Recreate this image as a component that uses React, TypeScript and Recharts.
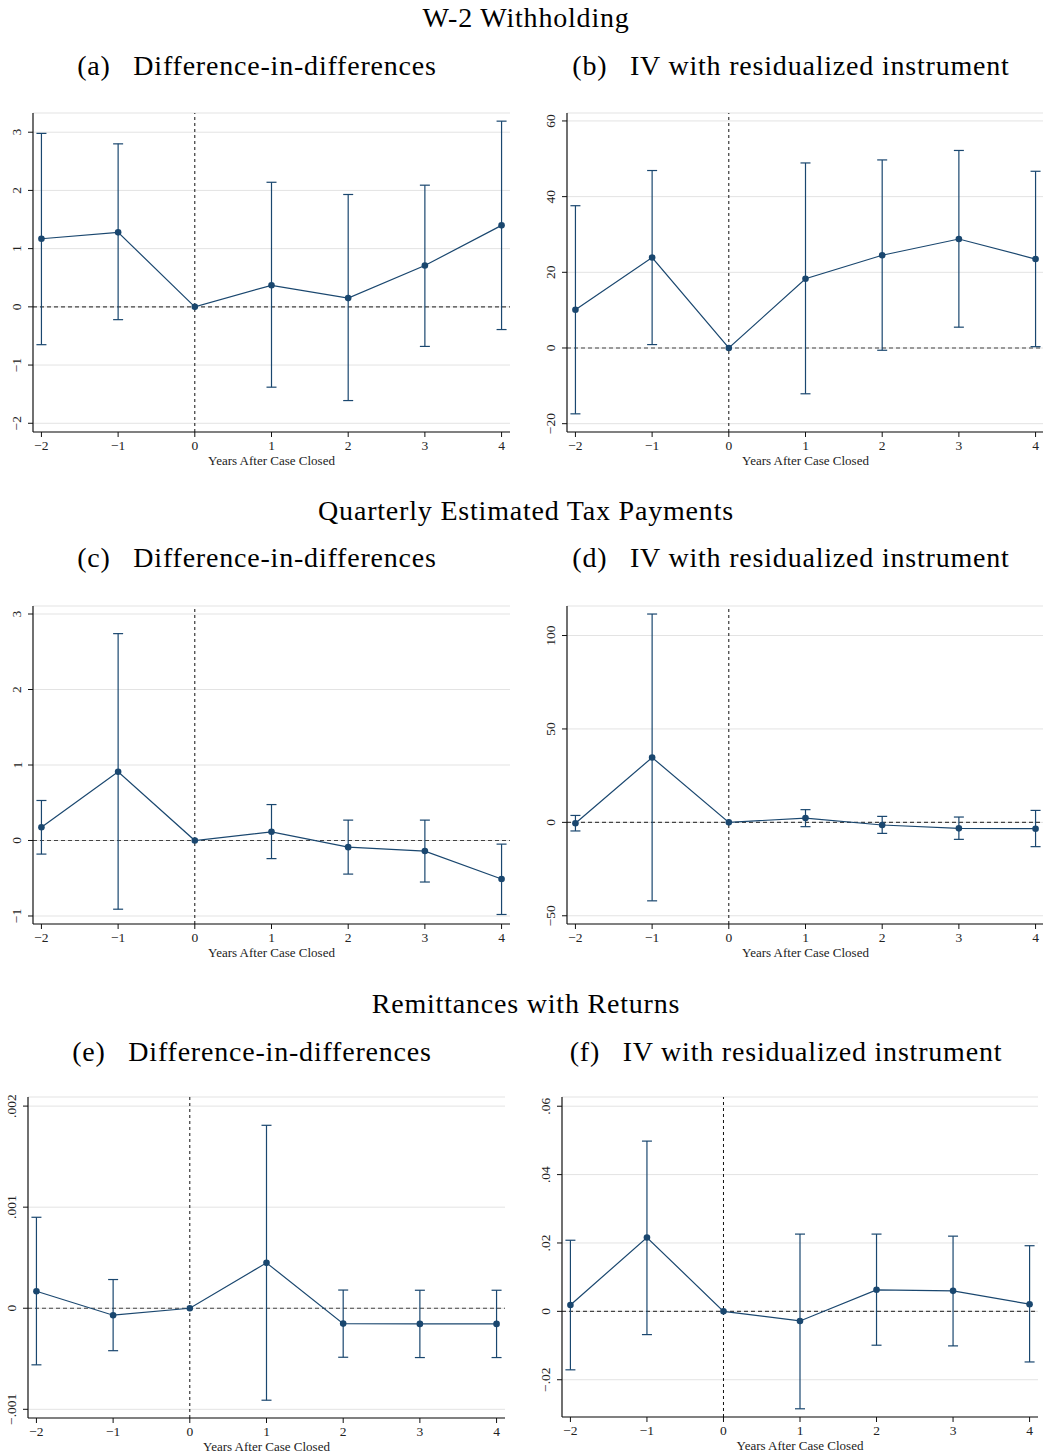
import React from "react"
import {
  ComposedChart,
  Line,
  ErrorBar,
  XAxis,
  YAxis,
  CartesianGrid,
  ReferenceLine,
} from "recharts"

const years = [-2, -1, 0, 1, 2, 3, 4]
const yearTicks = [-2, -1, 0, 1, 2, 3, 4]

// W-2 withholding
const w2DidCoef = [1.17, 1.28, 0, 0.37, 0.15, 0.71, 1.4]
const w2DidLo = [-0.65, -0.22, null, -1.38, -1.61, -0.68, -0.39]
const w2DidHi = [2.98, 2.8, null, 2.14, 1.93, 2.09, 3.19]
const w2DidTicks = [-2, -1, 0, 1, 2, 3]

const w2IvCoef = [10.1, 23.9, 0, 18.3, 24.5, 28.8, 23.5]
const w2IvLo = [-17.4, 0.9, null, -12.1, -0.6, 5.5, 0.35]
const w2IvHi = [37.6, 46.9, null, 48.9, 49.7, 52.2, 46.7]
const w2IvTicks = [-20, 0, 20, 40, 60]

// quarterly estimated tax payments
const estDidCoef = [0.176, 0.91, 0, 0.115, -0.088, -0.14, -0.51]
const estDidLo = [-0.18, -0.91, null, -0.24, -0.445, -0.55, -0.98]
const estDidHi = [0.53, 2.74, null, 0.476, 0.27, 0.27, -0.048]
const estDidTicks = [-1, 0, 1, 2, 3]

const estIvCoef = [-0.5, 34.7, 0, 2.3, -1.4, -3.2, -3.4]
const estIvLo = [-4.6, -42.0, null, -2.3, -5.9, -9.1, -13.0]
const estIvHi = [3.7, 111.5, null, 6.8, 3.2, 2.85, 6.4]
const estIvTicks = [-50, 0, 50, 100]

// remittances with returns
const remDidCoef = [0.000168, -0.000069, 0, 0.000449, -0.000152, -0.000155, -0.000155]
const remDidLo = [-0.00056, -0.00042, null, -0.00091, -0.000485, -0.000488, -0.000488]
const remDidHi = [0.0009, 0.000284, null, 0.00181, 0.00018, 0.000178, 0.000178]
const remDidTicks = [-0.001, 0, 0.001, 0.002]

const remIvCoef = [0.00185, 0.0216, 0, -0.0028, 0.0063, 0.006, 0.0021]
const remIvLo = [-0.0171, -0.0068, null, -0.0285, -0.0099, -0.0101, -0.0148]
const remIvHi = [0.0208, 0.0498, null, 0.0226, 0.0226, 0.022, 0.0192]
const remIvTicks = [-0.02, 0, 0.02, 0.04, 0.06]

const NAVY = "#1a476f"
const SERIF = "'Liberation Serif', 'Times New Roman', serif"

const fmt = (v: number) => {
  if (v === 0) return "0"
  let s = String(Math.abs(Number(v.toPrecision(6))))
  if (s.startsWith("0.")) s = s.slice(1)
  return (v < 0 ? "\u2212" : "") + s
}

function buildRows(coef: number[], lo: (number | null)[], hi: (number | null)[]) {
  return years.map((t, i) => {
    const l = lo[i]
    const h = hi[i]
    return {
      t,
      b: coef[i],
      err: l == null || h == null ? null : [coef[i] - l, h - coef[i]],
    }
  })
}

const YTick = (props: any) => {
  const { x, y, payload } = props
  const cx = x - 8
  return (
    <text
      x={cx}
      y={y}
      transform={`rotate(-90, ${cx}, ${y})`}
      textAnchor="middle"
      dominantBaseline="central"
      fontSize={13.5}
      fontFamily={SERIF}
      fill="#222"
    >
      {fmt(payload.value)}
    </text>
  )
}

interface PanelProps {
  l: number
  r: number
  t: number
  b: number
  domain: [number, number]
  ticks: number[]
  coef: number[]
  lo: (number | null)[]
  hi: (number | null)[]
}

function Panel({ l, r, t, b, domain, ticks, coef, lo, hi }: PanelProps) {
  const yw = 34
  const xh = 38
  const left = l - yw
  const top = t - 10
  const width = r + 2 - left
  const height = b + xh - top
  const rows = buildRows(coef, lo, hi)
  return (
    <div style={{ position: "absolute", left, top }}>
      <ComposedChart
        width={width}
        height={height}
        data={rows}
        margin={{ top: 10, right: 2, left: 0, bottom: 0 }}
        style={{ fontFamily: SERIF }}
      >
        <CartesianGrid vertical={false} stroke="#e3e3e3" strokeWidth={1} />
        <XAxis
          dataKey="t"
          type="number"
          domain={[-2.11, 4.11]}
          ticks={yearTicks}
          allowDataOverflow
          height={xh}
          tickSize={5}
          tickMargin={3}
          interval={0}
          tickFormatter={fmt}
          tick={{ fontSize: 13.5, fill: "#222", fontFamily: SERIF }}
          axisLine={{ stroke: "#111", strokeWidth: 1.2 }}
          tickLine={{ stroke: "#111" }}
          label={{
            value: "Years After Case Closed",
            position: "insideBottom",
            offset: 5,
            fontSize: 13,
            fill: "#222",
            fontFamily: SERIF,
          }}
        />
        <YAxis
          type="number"
          domain={domain}
          ticks={ticks}
          allowDataOverflow
          width={yw}
          tickSize={5}
          tickMargin={3}
          interval={0}
          tick={<YTick />}
          axisLine={{ stroke: "#111", strokeWidth: 1.2 }}
          tickLine={{ stroke: "#111" }}
        />
        <ReferenceLine y={0} stroke="#444" strokeDasharray="4 3" strokeWidth={1.1} />
        <ReferenceLine x={0} stroke="#111" strokeDasharray="3 3" strokeWidth={1} />
        <Line
          dataKey="b"
          stroke={NAVY}
          strokeWidth={1.2}
          dot={{ r: 3.3, fill: NAVY, stroke: NAVY, strokeWidth: 0 }}
          activeDot={false}
          isAnimationActive={false}
        >
          <ErrorBar
            dataKey="err"
            width={5}
            stroke={NAVY}
            strokeWidth={1.2}
            direction="y"
            isAnimationActive={false}
          />
        </Line>
      </ComposedChart>
    </div>
  )
}

const Title = ({ x, y, children }: { x: number; y: number; children: React.ReactNode }) => (
  <div
    style={{
      position: "absolute",
      left: x,
      top: y,
      transform: "translate(-50%, -50%)",
      fontFamily: SERIF,
      fontSize: 28,
      lineHeight: 1,
      whiteSpace: "pre",
      color: "#000",
      letterSpacing: 0.8,
    }}
  >
    {children}
  </div>
)

export default function App() {
  return (
    <div
      style={{
        position: "absolute",
        left: 0,
        top: 0,
        width: 1043,
        height: 1453,
        overflow: "hidden",
        background: "#fff",
      }}
    >
      <Title x={526} y={18}>W-2 Withholding</Title>
      <Title x={257} y={66}>{"(a)\u2002 Difference-in-differences"}</Title>
      <Title x={791} y={66}>{"(b)\u2002 IV with residualized instrument"}</Title>
      <Panel l={33} r={510} t={113} b={432} domain={[-2.15, 3.33]} ticks={w2DidTicks}
        coef={w2DidCoef} lo={w2DidLo} hi={w2DidHi} />
      <Panel l={567} r={1044} t={113} b={432} domain={[-22.2, 62.1]} ticks={w2IvTicks}
        coef={w2IvCoef} lo={w2IvLo} hi={w2IvHi} />

      <Title x={526} y={511}>Quarterly Estimated Tax Payments</Title>
      <Title x={257} y={558}>{"(c)\u2002 Difference-in-differences"}</Title>
      <Title x={791} y={558}>{"(d)\u2002 IV with residualized instrument"}</Title>
      <Panel l={33} r={510} t={606} b={924} domain={[-1.106, 3.106]} ticks={estDidTicks}
        coef={estDidCoef} lo={estDidLo} hi={estDidHi} />
      <Panel l={567} r={1044} t={606} b={924} domain={[-54.4, 115.8]} ticks={estIvTicks}
        coef={estIvCoef} lo={estIvLo} hi={estIvHi} />

      <Title x={526} y={1004}>Remittances with Returns</Title>
      <Title x={252} y={1052}>{"(e)\u2002 Difference-in-differences"}</Title>
      <Title x={786} y={1052}>{"(f)\u2002 IV with residualized instrument"}</Title>
      <Panel l={28} r={505} t={1097} b={1418} domain={[-0.001086, 0.00209]} ticks={remDidTicks}
        coef={remDidCoef} lo={remDidLo} hi={remDidHi} />
      <Panel l={562} r={1038} t={1097} b={1417} domain={[-0.0309, 0.0627]} ticks={remIvTicks}
        coef={remIvCoef} lo={remIvLo} hi={remIvHi} />
    </div>
  )
}
